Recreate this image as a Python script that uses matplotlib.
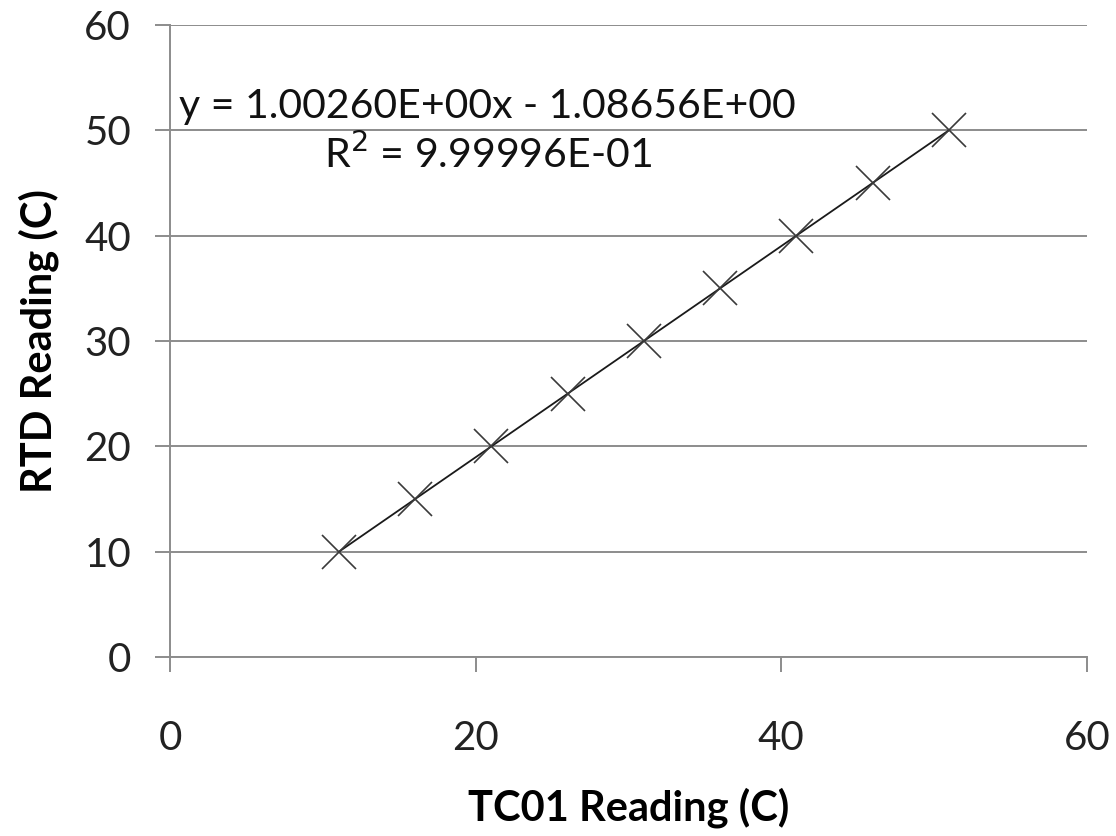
import numpy as np
import matplotlib
matplotlib.use("Agg")
from matplotlib import pyplot as plt

plt.rcParams["font.family"] = ["Lato", "DejaVu Sans"]

# readings
tc01 = [11.06, 16.04, 21.03, 26.02, 31.01, 36.00, 40.98, 45.97, 50.96]
rtd = [10, 15, 20, 25, 30, 35, 40, 45, 50]
x_ticks = [0, 20, 40, 60]
y_ticks = [0, 10, 20, 30, 40, 50, 60]
eq_text = "y = 1.00260E+00x - 1.08656E+00\nR$^2$ = 9.99996E-01"

fig = plt.figure(figsize=(11.16, 8.36), dpi=100)
ax = fig.add_axes([0.1523, 0.2141, 0.974 - 0.1523, 0.9701 - 0.2141])

grid_c = "#8c8c8c"

# linear trendline
k, b = np.polyfit(tc01, rtd, 1)
xs = np.array([min(tc01), max(tc01)])
ax.plot(xs, k * xs + b, color="#1a1a1a", lw=1.3, zorder=3)
ax.plot(tc01, rtd, linestyle="none", marker="x", markersize=24,
        markeredgewidth=1.2, color="#3a3a3a", zorder=4)

ax.set_xlim(0, 60)
ax.set_ylim(0, 60)
ax.set_xticks(x_ticks)
ax.set_yticks(y_ticks)
ax.yaxis.grid(True, color=grid_c, lw=1.4)
ax.set_axisbelow(True)

for s in ["top", "right"]:
    ax.spines[s].set_visible(False)
for s in ["left", "bottom"]:
    ax.spines[s].set_color(grid_c)
    ax.spines[s].set_linewidth(1.4)

ax.tick_params(axis="x", length=11, width=1.4, color=grid_c, pad=34,
               labelsize=29, labelcolor="#222222")
ax.tick_params(axis="y", length=11, width=1.4, color=grid_c, pad=17,
               labelsize=29, labelcolor="#222222")

ax.set_xlabel("TC01 Reading (C)", fontsize=30, fontweight="bold", labelpad=22)
ax.set_ylabel("RTD Reading (C)", fontsize=30, fontweight="bold", labelpad=18)

ax.text(20.8, 49.9, eq_text, ha="center", va="center", fontsize=29.5,
        multialignment="center", linespacing=1.25, color="#111111")

fig.savefig("out.png", dpi=100)
